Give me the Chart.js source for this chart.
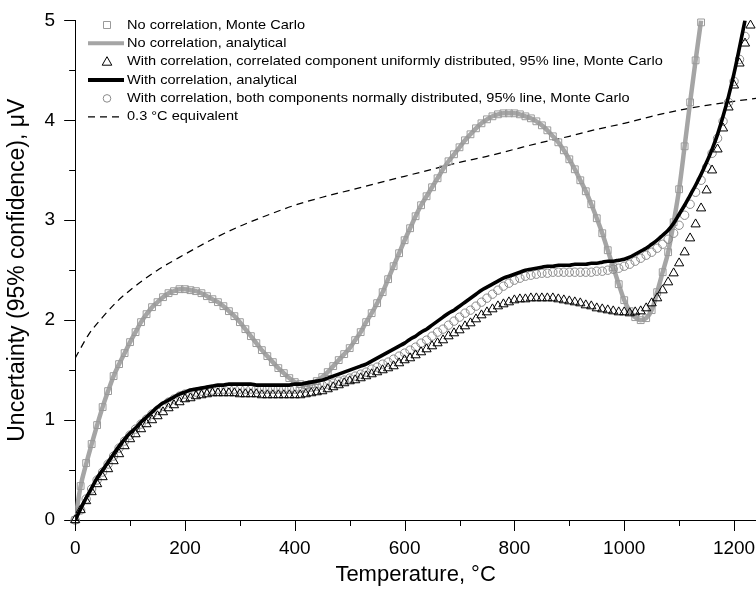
<!DOCTYPE html>
<html><head><meta charset="utf-8">
<script src="https://cdn.jsdelivr.net/npm/chart.js@4.4.1/dist/chart.umd.min.js"></script>
<style>html,body{margin:0;padding:0;background:#fff;}canvas{display:block;}</style>
</head><body>
<canvas id="c" width="756" height="589"></canvas>
<script>
// Temperature grid, °C (10 °C steps)
const temperatures = [0,10,20,30,40,50,60,70,80,90,100,110,120,130,140,150,160,170,180,190,200,210,220,230,240,250,260,270,280,290,300,310,320,330,340,350,360,370,380,390,400,410,420,430,440,450,460,470,480,490,500,510,520,530,540,550,560,570,580,590,600,610,620,630,640,650,660,670,680,690,700,710,720,730,740,750,760,770,780,790,800,810,820,830,840,850,860,870,880,890,900,910,920,930,940,950,960,970,980,990,1000,1010,1020,1030,1040,1050,1060,1070,1080,1090,1100,1110,1120,1130,1140,1150,1160,1170,1180,1190,1200,1210,1220,1230,1240];

// No correlation, analytical (µV)
const noCorrAnalytical = [0.00,0.34,0.56,0.76,0.95,1.13,1.29,1.44,1.56,1.67,
1.78,1.88,1.98,2.06,2.13,2.18,2.23,2.27,2.29,2.31,
2.31,2.30,2.29,2.27,2.24,2.21,2.18,2.14,2.09,2.04,
1.98,1.91,1.84,1.77,1.70,1.64,1.58,1.52,1.47,1.42,
1.38,1.36,1.35,1.36,1.39,1.43,1.48,1.54,1.60,1.66,
1.72,1.80,1.88,1.98,2.07,2.17,2.28,2.41,2.54,2.67,
2.80,2.92,3.04,3.15,3.24,3.33,3.42,3.51,3.59,3.66,
3.73,3.80,3.86,3.92,3.97,4.01,4.04,4.06,4.07,4.07,
4.07,4.06,4.04,4.02,3.99,3.95,3.90,3.84,3.78,3.70,
3.61,3.51,3.40,3.29,3.16,3.02,2.87,2.70,2.53,2.36,
2.20,2.09,2.03,2.00,2.02,2.10,2.28,2.48,2.68,2.98,
3.31,3.74,4.18,4.60,5.00];

// No correlation, Monte Carlo (µV)
const noCorrMC = [0.00,0.34,0.57,0.76,0.95,1.13,1.29,1.44,1.56,1.67,
1.78,1.88,1.98,2.06,2.13,2.18,2.23,2.27,2.29,2.31,
2.31,2.30,2.29,2.27,2.24,2.21,2.18,2.14,2.09,2.04,
1.98,1.91,1.84,1.77,1.70,1.64,1.58,1.52,1.47,1.42,
1.38,1.36,1.35,1.36,1.39,1.43,1.48,1.54,1.60,1.66,
1.72,1.80,1.88,1.98,2.07,2.17,2.28,2.41,2.54,2.67,
2.80,2.92,3.04,3.15,3.24,3.33,3.42,3.51,3.59,3.66,
3.73,3.80,3.86,3.92,3.97,4.01,4.04,4.06,4.07,4.07,
4.07,4.06,4.04,4.02,3.99,3.95,3.90,3.84,3.78,3.70,
3.61,3.51,3.40,3.29,3.16,3.02,2.87,2.70,2.53,2.36,
2.20,2.09,2.03,2.00,2.02,2.10,2.28,2.48,2.68,2.98,
3.31,3.74,4.18,4.60,4.98];

// With correlation, analytical (µV)
const corrAnalytical = [0.00,0.11,0.22,0.32,0.42,0.50,0.58,0.66,0.74,0.81,
0.87,0.92,0.98,1.03,1.08,1.13,1.17,1.20,1.23,1.26,
1.28,1.30,1.31,1.32,1.33,1.34,1.35,1.35,1.36,1.36,
1.36,1.36,1.36,1.35,1.35,1.35,1.35,1.35,1.35,1.35,
1.36,1.36,1.37,1.38,1.39,1.40,1.42,1.44,1.46,1.48,
1.50,1.52,1.54,1.56,1.59,1.62,1.65,1.68,1.71,1.74,
1.77,1.81,1.84,1.88,1.91,1.95,1.99,2.03,2.07,2.10,
2.14,2.18,2.22,2.26,2.30,2.33,2.36,2.39,2.42,2.44,
2.46,2.48,2.50,2.51,2.52,2.53,2.54,2.54,2.55,2.55,
2.55,2.56,2.56,2.56,2.57,2.57,2.58,2.59,2.59,2.60,
2.61,2.63,2.66,2.69,2.72,2.76,2.80,2.85,2.90,2.97,
3.06,3.15,3.25,3.35,3.46,3.58,3.71,3.86,4.04,4.24,
4.47,4.73,5.00];

// With correlation, correlated component uniformly distributed, 95% line, Monte Carlo (µV)
const corrUniformMC = [0.00,0.10,0.19,0.28,0.36,0.43,0.51,0.59,0.66,0.74,
0.81,0.86,0.91,0.96,1.00,1.04,1.08,1.12,1.15,1.18,
1.21,1.22,1.24,1.25,1.26,1.27,1.27,1.27,1.27,1.27,
1.26,1.26,1.26,1.26,1.25,1.25,1.25,1.25,1.25,1.25,
1.25,1.25,1.26,1.27,1.28,1.29,1.31,1.33,1.35,1.37,
1.39,1.40,1.42,1.44,1.46,1.48,1.50,1.52,1.54,1.57,
1.60,1.62,1.65,1.68,1.71,1.74,1.77,1.80,1.84,1.87,
1.90,1.94,1.97,2.01,2.05,2.08,2.11,2.14,2.16,2.18,
2.20,2.21,2.21,2.22,2.22,2.22,2.22,2.22,2.21,2.20,
2.19,2.18,2.17,2.15,2.14,2.12,2.11,2.10,2.09,2.08,
2.08,2.07,2.08,2.09,2.12,2.17,2.22,2.30,2.38,2.47,
2.57,2.68,2.82,2.96,3.12,3.30,3.50,3.71,3.92,4.13,
4.35,4.57,4.77,4.95];

// With correlation, both components normally distributed, 95% line, Monte Carlo (µV)
const corrNormalMC = [0.00,0.10,0.21,0.31,0.40,0.48,0.56,0.64,0.72,0.79,
0.85,0.91,0.96,1.01,1.06,1.10,1.14,1.18,1.21,1.24,
1.26,1.27,1.28,1.29,1.30,1.30,1.31,1.31,1.31,1.31,
1.31,1.31,1.31,1.31,1.31,1.31,1.31,1.31,1.31,1.31,
1.31,1.32,1.32,1.33,1.34,1.35,1.36,1.37,1.39,1.40,
1.42,1.44,1.46,1.48,1.51,1.53,1.56,1.58,1.61,1.64,
1.67,1.70,1.73,1.77,1.80,1.84,1.88,1.91,1.95,1.99,
2.03,2.07,2.10,2.14,2.18,2.22,2.26,2.30,2.34,2.37,
2.40,2.42,2.44,2.45,2.46,2.47,2.47,2.48,2.48,2.48,
2.48,2.48,2.48,2.48,2.48,2.49,2.49,2.50,2.51,2.52,
2.54,2.56,2.59,2.62,2.65,2.68,2.72,2.76,2.81,2.87,
2.95,3.05,3.16,3.28,3.40,3.53,3.67,3.82,3.99,4.18,
4.39,4.61,4.84];

// 0.3 °C equivalent
const equivTemps = [0,25,50,75,100,150,200,250,300,350,400,450,500,550,600,650,700,750,800,850,900,950,1000,1050,1100,1150,1200,1240];
const equivUncert = [1.62,1.86,2.03,2.18,2.30,2.50,2.66,2.81,2.94,3.05,3.15,3.23,3.30,3.37,3.44,3.51,3.58,3.64,3.71,3.78,3.84,3.91,3.97,4.04,4.10,4.15,4.19,4.22];

// Tick labels
const xTickValues = [0,200,400,600,800,1000,1200];
const yTickValues = [0,1,2,3,4,5];
const xTicksMinor = [100,300,500,700,900,1100];
const yTicksMinor = [0.5,1.5,2.5,3.5,4.5];

const FONT = '"Liberation Sans", Arial, Helvetica, sans-serif';
const pts = (arr, xs) => arr.map((v, i) => ({x: (xs || temperatures)[i], y: v}));

const datasets = [
  {label:'No correlation, Monte Carlo', data:pts(noCorrMC), showLine:false, pointStyle:'rect', pointRadius:4.8,
   pointBorderColor:'#9a9a9a', pointBackgroundColor:'rgba(0,0,0,0)', pointBorderWidth:1, order:4, clip:false, legendType:'square'},
  {label:'No correlation, analytical', data:pts(noCorrAnalytical), showLine:true, borderColor:'#a5a5a5', borderWidth:4.5,
   pointRadius:0, cubicInterpolationMode:'monotone', order:5, legendType:'grayline'},
  {label:'With correlation, correlated component uniformly distributed, 95% line, Monte Carlo', data:pts(corrUniformMC), showLine:false,
   pointStyle:'triangle', pointRadius:5.3, pointBorderColor:'#000', pointBackgroundColor:'rgba(0,0,0,0)', pointBorderWidth:1, order:2, clip:false, legendType:'triangle'},
  {label:'With correlation, analytical', data:pts(corrAnalytical), showLine:true, borderColor:'#000', borderWidth:3.6,
   pointRadius:0, cubicInterpolationMode:'monotone', order:1, legendType:'blackline'},
  {label:'With correlation, both components normally distributed, 95% line, Monte Carlo', data:pts(corrNormalMC), showLine:false,
   pointStyle:'circle', pointRadius:4.2, pointBorderColor:'#8a8a8a', pointBackgroundColor:'rgba(0,0,0,0)', pointBorderWidth:1, order:3, clip:false, legendType:'circle'},
  {label:'0.3 °C equivalent', data:pts(equivUncert, equivTemps), showLine:true, borderColor:'#000', borderWidth:1.25, borderDash:[7,5],
   pointRadius:0, cubicInterpolationMode:'monotone', order:6, legendType:'dash'}
];

// Major x tick marks (11 px) and minor tick marks (6 px), placed with the scales
const tickMarks = {
  id:'tickMarks',
  afterDraw(chart){
    const {ctx, scales:{x, y}, chartArea:a} = chart;
    ctx.save();
    ctx.strokeStyle = '#000'; ctx.lineWidth = 1;
    ctx.beginPath();
    xTickValues.forEach(v => { const px = Math.round(x.getPixelForValue(v)) + 0.5; ctx.moveTo(px, a.bottom); ctx.lineTo(px, a.bottom + 11); });
    xTicksMinor.forEach(v => { const px = Math.round(x.getPixelForValue(v)) + 0.5; ctx.moveTo(px, a.bottom); ctx.lineTo(px, a.bottom + 6); });
    yTicksMinor.forEach(v => { const py = Math.round(y.getPixelForValue(v)) + 0.5; ctx.moveTo(a.left, py); ctx.lineTo(a.left - 6, py); });
    ctx.stroke();
    ctx.restore();
  }
};

const insideLegend = {
  id:'insideLegend',
  afterDraw(chart){
    const ctx = chart.ctx;
    ctx.save();
    const rowY0 = 25, rowStep = 18.35, symX = 107, lineX0 = 88, lineX1 = 124, textX = 127;
    chart.data.datasets.forEach((ds, i) => {
      const yy = rowY0 + i * rowStep;
      ctx.setLineDash([]);
      ctx.lineWidth = 1;
      ctx.beginPath();
      if (ds.legendType === 'square') {
        ctx.strokeStyle = '#9a9a9a';
        ctx.rect(symX - 3.5, yy - 3.5, 7, 7); ctx.stroke();
      } else if (ds.legendType === 'triangle') {
        ctx.strokeStyle = '#000';
        ctx.moveTo(symX, yy - 5); ctx.lineTo(symX + 4.8, yy + 3.5); ctx.lineTo(symX - 4.8, yy + 3.5); ctx.closePath(); ctx.stroke();
      } else if (ds.legendType === 'circle') {
        ctx.strokeStyle = '#8a8a8a';
        ctx.arc(symX, yy, 3.8, 0, Math.PI * 2); ctx.stroke();
      } else {
        ctx.strokeStyle = ds.borderColor;
        ctx.lineWidth = ds.legendType === 'dash' ? 1.25 : 4;
        if (ds.legendType === 'dash') ctx.setLineDash([7,5]);
        ctx.moveTo(lineX0, yy); ctx.lineTo(lineX1, yy); ctx.stroke();
      }
      ctx.setLineDash([]);
      ctx.fillStyle = '#000';
      ctx.font = '13px ' + FONT;
      ctx.textBaseline = 'middle';
      ctx.textAlign = 'left';
      ctx.save();
      ctx.translate(textX, yy);
      ctx.scale(1.12, 1);
      ctx.fillText(ds.label, 0, 0);
      ctx.restore();
    });
    ctx.restore();
  }
};

new Chart(document.getElementById('c'), {
  type:'scatter',
  data:{datasets},
  options:{
    responsive:false, animation:false, devicePixelRatio:1, events:[],
    layout:{autoPadding:false, padding:{left:0, top:20, right:0, bottom:0}},
    plugins:{legend:{display:false}, tooltip:{enabled:false}},
    scales:{
      x:{type:'linear', min:0, max:1240,
        afterBuildTicks: s => { s.ticks = xTickValues.map(v => ({value:v})); },
        afterFit: s => { s.paddingRight = 0; },
        ticks:{color:'#000', font:{family:FONT, size:19, lineHeight:1.0}, padding:0, maxRotation:0, minRotation:0, autoSkip:false,
          callback:v => String(v)},
        grid:{display:true, drawOnChartArea:false, drawTicks:true, tickLength:19.5, tickColor:'rgba(0,0,0,0)', tickWidth:1},
        border:{display:true, color:'#000', width:1},
        title:{display:true, text:'Temperature, °C', color:'#000', font:{family:FONT, size:22}, padding:{top:3.3, bottom:0.8}}
      },
      y:{type:'linear', min:0, max:5,
        afterBuildTicks: s => { s.ticks = yTickValues.map(v => ({value:v})); },
        ticks:{color:'#000', font:{family:FONT, size:19}, padding:9, callback:v => String(v)},
        grid:{display:true, drawOnChartArea:false, drawTicks:true, tickLength:11, tickColor:'#000', tickWidth:1},
        border:{display:true, color:'#000', width:1},
        title:{display:true, text:'Uncertainty (95% confidence), μV', color:'#000', font:{family:FONT, size:23}, padding:{top:4, bottom:4}}
      }
    }
  },
  plugins:[tickMarks, insideLegend]
});
</script>
</body></html>
